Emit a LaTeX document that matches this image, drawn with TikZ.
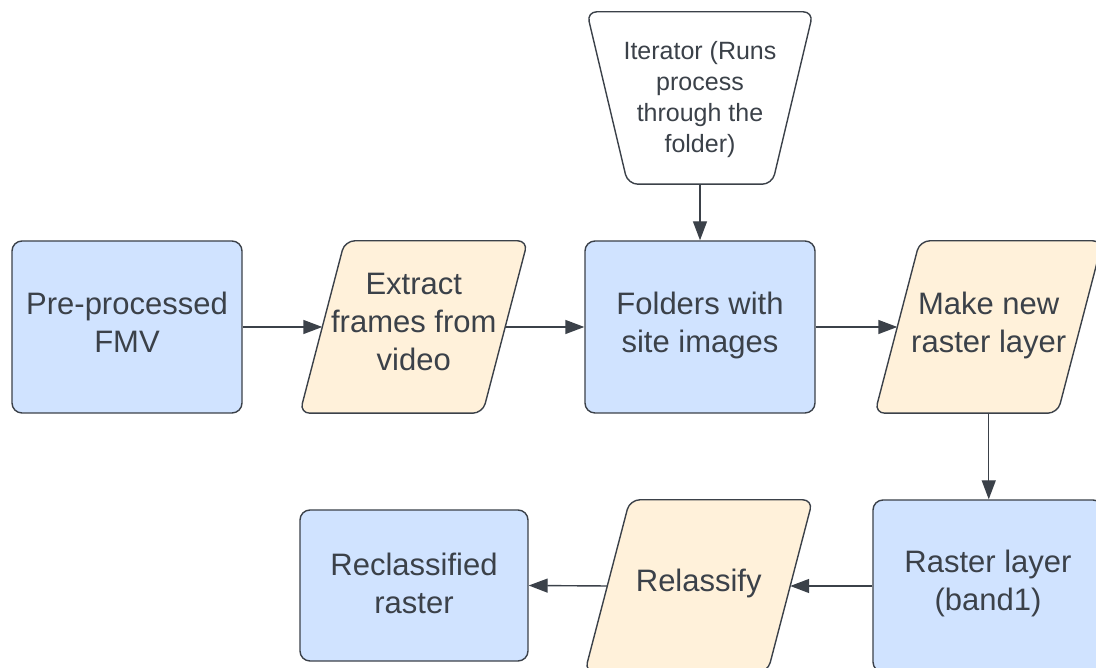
\documentclass[tikz,border=0pt]{standalone}
\usepackage{fontspec}
\setmainfont{Liberation Sans}
\usetikzlibrary{arrows.meta,backgrounds}
\definecolor{bluefill}{HTML}{D0E3FF}
\definecolor{orangefill}{HTML}{FFF1DA}
\definecolor{ink}{HTML}{3B4149}
\tikzset{
  box/.style={draw=ink, line width=1.4pt, fill=bluefill, rounded corners=10pt,
    minimum width=230pt, minimum height=172pt, inner sep=0pt},
  parabox/.style={minimum width=182.5pt, minimum height=172pt, inner sep=0pt},
  label text/.style={align=center, text=ink, font=\fontsize{31}{38}\selectfont, inner sep=0pt},
  small text/.style={align=center, text=ink, font=\fontsize{25}{31}\selectfont, inner sep=0pt},
  parashape/.style={draw=ink, line width=1.4pt, fill=orangefill, rounded corners=10pt},
  termshape/.style={draw=ink, line width=1.4pt, fill=white, rounded corners=10pt},
  conn/.style={draw=ink, line width=1.4pt, -{Triangle[length=19pt,width=14pt]}},
}
\newcommand{\paraoutline}[1]{%
  \path[parashape] ([xshift=22.5pt]#1.north west) -- ([xshift=22.5pt]#1.north east)
     -- ([xshift=-22.5pt]#1.south east) -- ([xshift=-22.5pt]#1.south west) -- cycle;}
\begin{document}
\begin{tikzpicture}[x=1pt,y=1pt]
\useasboundingbox (0,0) rectangle (1096,668);
% shapes
\node[box] (fmv) at (127,341) {};
\node[parabox] (ext) at (413.75,341) {};
\paraoutline{ext}
\node[box] (fold) at (700,341) {};
\node[parabox] (make) at (988.75,341) {};
\paraoutline{make}
\node[minimum width=226pt, minimum height=172pt, inner sep=0pt] (iter) at (700,570) {};
\path[termshape] (iter.north west) -- (iter.north east)
  -- ([xshift=-41pt]iter.south east) -- ([xshift=41pt]iter.south west) -- cycle;
\node[box] (rast) at (988,82) {};
\node[parabox] (rel) at (698.75,82) {};
\paraoutline{rel}
\node[box, minimum width=228pt, minimum height=151pt] (recl) at (414,82.5) {};
% texts
\node[label text] (fmv-t) at ([yshift=5pt]fmv) {Pre-processed\\FMV};
\node[label text] (ext-t) at ([yshift=5pt]ext) {Extract\\frames from\\video};
\node[label text] (fold-t) at ([yshift=2pt]fold) {Folders with\\site images};
\node[label text] (make-t) at ([yshift=2pt]make) {Make new\\raster layer};
\node[small text] (iter-t) at ([yshift=-2pt]iter) {Iterator (Runs\\process\\through the\\folder)};
\node[label text] (rast-t) at ([yshift=3pt]rast) {Raster layer\\(band1)};
\node[label text] (rel-t) at ([yshift=3pt]rel) {Relassify};
\node[label text] (recl-t) at ([yshift=2pt]recl) {Reclassified\\raster};
% connectors
\draw[conn] (fmv.east) -- (ext.west);
\draw[conn] (ext.east) -- (fold.west);
\draw[conn] (fold.east) -- (make.west);
\draw[conn] (iter.south) -- (fold.north);
\draw[conn] (make.south) -- (make.south |- rast.north);
\draw[conn] (rast.west) -- (rel.east);
\draw[conn] (rel.west) -- (recl.east);
\end{tikzpicture}
\end{document}
